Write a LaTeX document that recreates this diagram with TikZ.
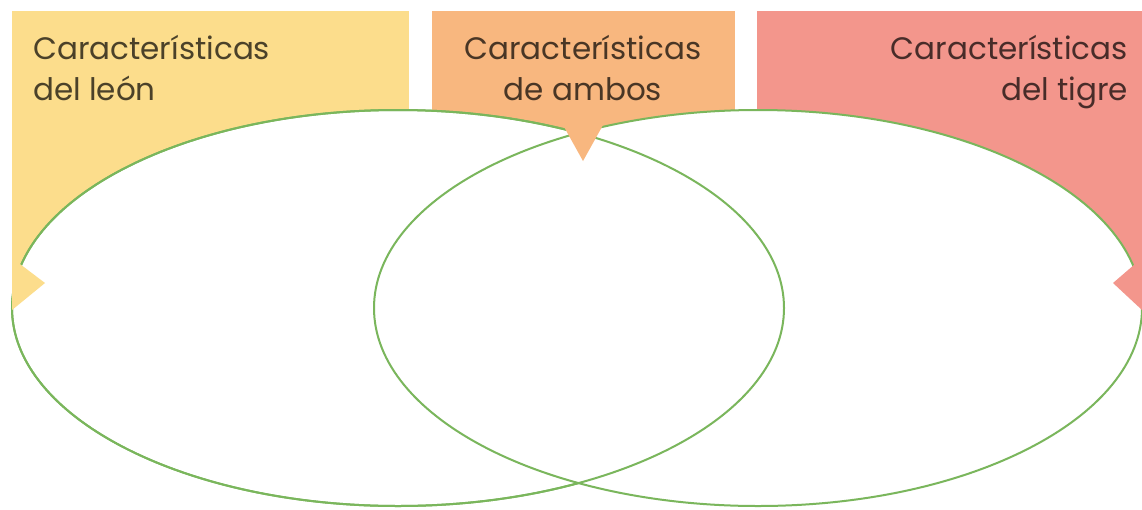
\documentclass[tikz,border=0pt]{standalone}
\usepackage{fontspec}
\setmainfont{Poppins}
\definecolor{leony}{RGB}{252,221,140}
\definecolor{ambo}{RGB}{248,183,127}
\definecolor{tigr}{RGB}{243,150,140}
\definecolor{vennline}{RGB}{122,182,92}
\tikzset{
  venn/.style={draw=vennline, line width=2pt, fill=white},
  vennedge/.style={draw=vennline, line width=2pt},
  lbl/.style={inner sep=0pt, font=\fontsize{31}{41}\selectfont, text=black, text opacity=0.7},
}
\begin{document}
\begin{tikzpicture}[x=1pt,y=-1pt]
\useasboundingbox[fill=white] (0,0) rectangle (1142,509);
% boxes
\fill[leony] (12,11) rectangle (409,310);
\fill[ambo] (432,11) rectangle (735,140);
\fill[tigr] (757,11) rectangle (1142,310);
% ellipses
\path[venn] (398,308) ellipse [x radius=386, y radius=198];
\path[venn] (758,308) ellipse [x radius=384, y radius=198];
\draw[vennedge] (398,308) ellipse [x radius=386, y radius=198];
% pointers
\fill[leony] (12,258) -- (45,283) -- (12,310) -- cycle;
\fill[ambo] (563,125) -- (583,161) -- (603,125) -- cycle;
\fill[tigr] (1142,258) -- (1113,283) -- (1142,310) -- cycle;
% labels (base anchor = baseline of the last line)
\node[lbl, anchor=base west, align=left] (tleon) at (33,100) {Características\\del león};
\node[lbl, anchor=base, align=center] (tambos) at (583,100) {Características\\de ambos};
\node[lbl, anchor=base east, align=right] (ttigre) at (1128,100) {Características\\del tigre};
\end{tikzpicture}
\end{document}
